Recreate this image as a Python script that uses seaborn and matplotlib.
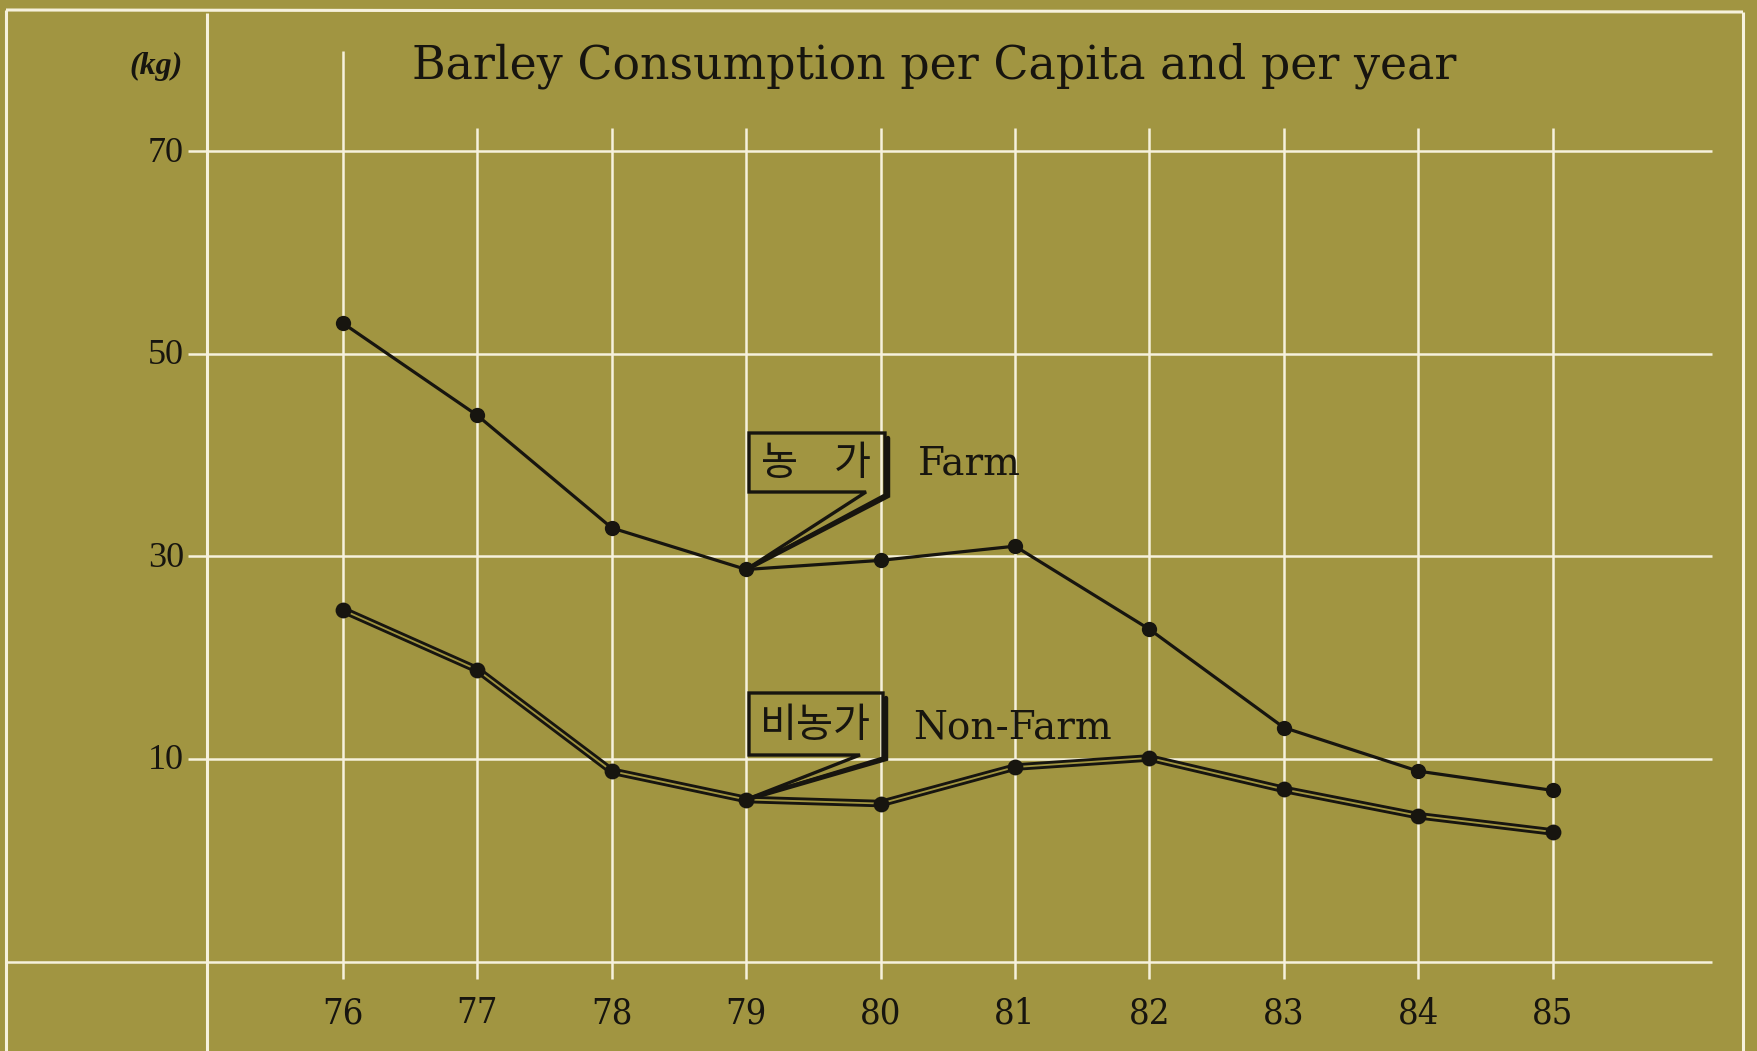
import matplotlib
matplotlib.use("Agg")
import matplotlib.pyplot as plt
import numpy as np
import pandas as pd
import seaborn as sns
from matplotlib.patches import Polygon

# ---- data ----
years = [76, 77, 78, 79, 80, 81, 82, 83, 84, 85]
farm = [53.0, 43.9, 32.8, 28.7, 29.6, 31.0, 22.8, 13.1, 8.8, 6.9]
nonfarm = [24.7, 18.8, 8.8, 6.0, 5.6, 9.2, 10.1, 7.0, 4.4, 2.8]
y_tick_values = [70, 50, 30, 10]
grid_levels = [70, 50, 30, 10, -10]
year_labels = [str(y) for y in years]

title_text = "Barley Consumption per Capita and per year"
unit_text = "(kg)"
farm_ko, farm_en = "농    가", "Farm"
nonfarm_ko, nonfarm_en = "비농가", "Non-Farm"

# ---- style ----
BG = "#a19541"
INK = "#17150f"
GRID = "#f6f1dc"

sns.set_theme(style="white")
plt.rcParams["font.family"] = ["DejaVu Serif", "DejaVu Sans"]

W, H, DPI = 1758, 1051, 100
fig = plt.figure(figsize=(W / DPI, H / DPI), dpi=DPI, facecolor=BG)
ax = fig.add_axes([0, 0, 1, 1])
ax.set_facecolor(BG)

# scale: pixels per year / per kg, and where the first year and 0 kg fall
PX_YEAR = 134.4
X_ORIGIN_PX = 343.0
PX_KG = 10.133
ZERO_KG_PX = 860.3

x_left = years[0] - X_ORIGIN_PX / PX_YEAR
ax.set_xlim(x_left, x_left + W / PX_YEAR)
ax.set_ylim((ZERO_KG_PX - H) / PX_KG, ZERO_KG_PX / PX_KG)
ax.axis("off")


def fx(px):
    return x_left + px / PX_YEAR


def fy(py):
    return (ZERO_KG_PX - py) / PX_KG


# ---- frame and grid ----
LW_GRID = 1.8
frame_kw = dict(color=GRID, lw=2.2, solid_capstyle="butt", zorder=1)
ax.plot([fx(6), fx(6)], [fy(H + 5), fy(10)], **frame_kw)
ax.plot([fx(6), fx(1743)], [fy(10), fy(12)], **frame_kw)
ax.plot([fx(1743), fx(1743)], [fy(12), fy(H + 5)], **frame_kw)
# y axis line
ax.plot([fx(207), fx(207)], [fy(13), fy(H + 5)], **frame_kw)

for lev in grid_levels:
    x0 = fx(6) if lev == grid_levels[-1] else fx(188)
    ax.hlines(lev, x0, fx(1712), color=GRID, lw=LW_GRID, zorder=1)

for i, yr in enumerate(years):
    top = fy(51) if i == 0 else fy(128)
    ax.vlines(yr, fy(979), top, color=GRID, lw=LW_GRID, zorder=1)

# ---- series ----
df = pd.DataFrame({"year": years, "farm": farm, "nonfarm": nonfarm})

sns.lineplot(data=df, x="year", y="farm", ax=ax, color=INK, lw=2.3,
             marker="o", markersize=11, markeredgewidth=0, legend=False,
             zorder=4)

# non-farm: a hollow double line
sns.lineplot(data=df, x="year", y="nonfarm", ax=ax, color=INK, lw=5.4,
             legend=False, zorder=4)
sns.lineplot(data=df, x="year", y="nonfarm", ax=ax, color=BG, lw=1.3,
             legend=False, zorder=5)
sns.scatterplot(data=df, x="year", y="nonfarm", ax=ax, color=INK, s=130,
                linewidth=0, legend=False, zorder=6)


# ---- callout boxes ----
def callout(left, right, top, bottom, notch, tip_x, tip_y, label):
    pts = [(fx(left), fy(top)), (fx(right), fy(top)), (fx(right), fy(bottom + 3)),
           (tip_x, tip_y), (fx(notch), fy(bottom)), (fx(left), fy(bottom))]
    ax.add_patch(Polygon(pts, closed=True, fill=False, ec=INK, lw=2.4,
                         joinstyle="miter", zorder=7))
    # drop shadow along the right side and pointer
    ax.plot([fx(right + 3), fx(right + 3), tip_x],
            [fy(top + 5), fy(bottom + 4), tip_y],
            color=INK, lw=3.2, solid_joinstyle="miter", zorder=7)
    ax.text(fx((left + right) / 2 - 1), fy((top + bottom) / 2 + 1), label,
            ha="center", va="center", fontsize=29, color=INK,
            family=["Noto Sans CJK KR", "DejaVu Sans"], weight="light", zorder=8)


callout(749, 885, 433, 492, 866, years[3], farm[3], farm_ko)
callout(749, 883, 693, 755, 860, years[3], nonfarm[3], nonfarm_ko)

ax.text(fx(918), fy(464), farm_en, ha="left", va="center", fontsize=28,
        color=INK, family=["DejaVu Serif"], zorder=8)
ax.text(fx(913), fy(728), nonfarm_en, ha="left", va="center", fontsize=28,
        color=INK, family=["DejaVu Serif"], zorder=8)

# ---- title and labels ----
ax.text(fx(934), fy(66), title_text, ha="center", va="center", fontsize=33,
        color=INK, family=["DejaVu Serif"])
ax.text(fx(156), fy(66), unit_text, ha="center", va="center", fontsize=23,
        color=INK, family=["Liberation Serif"], style="italic", weight="bold")

for v in y_tick_values:
    ax.text(fx(184), v - 0.2, str(v), ha="right", va="center", fontsize=26,
            color=INK, family=["Liberation Serif"])

for yr, lab in zip(years, year_labels):
    ax.text(yr, fy(1013), lab, ha="center", va="center", fontsize=26,
            color=INK, family=["DejaVu Serif"], stretch="condensed")

fig.savefig("out.png", dpi=DPI, facecolor=BG)
